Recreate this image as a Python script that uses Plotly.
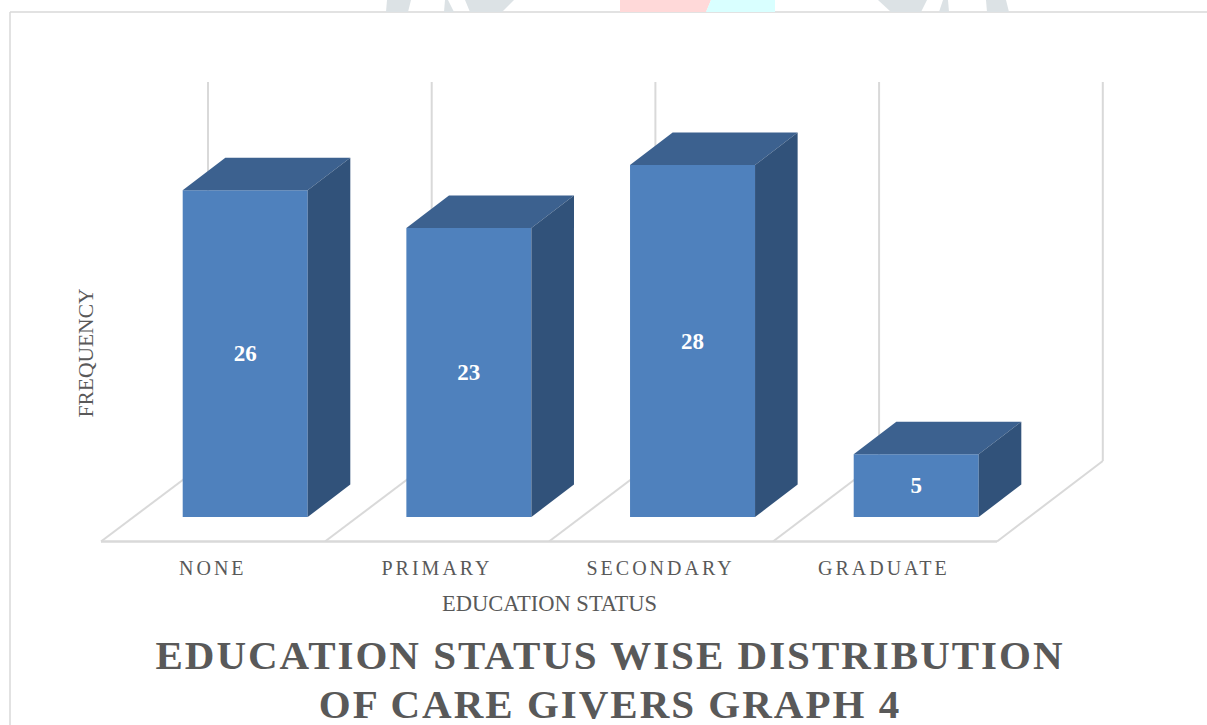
import plotly.graph_objects as go

categories = ["NONE", "PRIMARY", "SECONDARY", "GRADUATE"]
frequency = [26, 23, 28, 5]
title_text = "EDUCATION STATUS WISE DISTRIBUTION<br>OF CARE GIVERS GRAPH 4"
x_title = "EDUCATION STATUS"
y_title = "FREQUENCY"

W, H = 1207, 725
PX_X, PX_Y = 223.67, 12.57     # pixels per category / per unit
X0_PX, Y0_PX = 245.2, 517.0    # pixel of first bar centre / of value 0
BAR = 125 / PX_X
DX, DY = 42.6 / PX_X, 32.5 / PX_Y  # bar depth
FONT = "Liberation Serif"
INK = "#595959"
FRONT, TOP, SIDE = "#4f81bd", "#3c618f", "#31527a"
GRID = "#d9d9d9"


def X(p):
    return (p - X0_PX) / PX_X


def Y(p):
    return (Y0_PX - p) / PX_Y


fig = go.Figure()

# Front faces
fig.add_trace(go.Bar(
    x=list(range(len(categories))), y=frequency, width=BAR, base=0,
    marker=dict(color=FRONT, line=dict(width=0)),
    text=[str(v) for v in frequency], textposition="inside",
    insidetextanchor="middle", textangle=0, constraintext="none",
    textfont=dict(family=FONT, size=23, color="white", weight="bold"),
    hoverinfo="skip", showlegend=False,
))

# Top and side faces derived from the same values
for i, v in enumerate(frequency):
    l, r = i - BAR / 2, i + BAR / 2
    fig.add_trace(go.Scatter(
        x=[l, r, r + DX, l + DX, l], y=[v, v, v + DY, v + DY, v],
        fill="toself", fillcolor=TOP, mode="lines", line=dict(width=0),
        hoverinfo="skip", showlegend=False))
    fig.add_trace(go.Scatter(
        x=[r, r + DX, r + DX, r, r], y=[0, DY, v + DY, v, 0],
        fill="toself", fillcolor=SIDE, mode="lines", line=dict(width=0),
        hoverinfo="skip", showlegend=False))

shapes = []


def seg(x0, y0, x1, y1, w=2):
    shapes.append(dict(type="line", xref="x", yref="y", layer="below",
                       x0=X(x0), y0=Y(y0), x1=X(x1), y1=Y(y1),
                       line=dict(color=GRID, width=w)))


# Floor and back wall
STEP = 223.7
for k in range(5):
    seg(208 + STEP * k, 82, 208 + STEP * k, 461)
    seg(101 + STEP * k + k * 0.3, 541.5, 208 + STEP * k, 461)
seg(101, 541.5, 997, 541.5, 2.5)

# Chart frame
shapes.append(dict(type="line", xref="x", yref="y", layer="below", x0=X(10), x1=X(W), y0=Y(12), y1=Y(12), line=dict(color=GRID, width=1.5)))
shapes.append(dict(type="line", xref="x", yref="y", layer="below", x0=X(10), x1=X(10), y0=Y(12), y1=Y(H), line=dict(color=GRID, width=1.5)))


def poly(pts, color):
    d = "M" + " L".join(f"{X(a):.5f},{Y(b):.5f}" for a, b in pts) + " Z"
    shapes.append(dict(type="path", path=d, xref="x", yref="y", layer="below", fillcolor=color, line=dict(width=0)))


# Page background peeking out above the chart
poly([(620, 0), (711, 0), (706, 12), (620, 12)], "#ffd9d9")
poly([(711, 0), (775, 0), (775, 12), (706, 12)], "#d9ffff")
for pts in [
    [(387, 0), (411, 0), (408, 12), (386, 12)],
    [(445, 0), (448, 0), (454, 12), (444, 12)],
    [(465, 0), (514, 0), (502, 12), (470, 12)],
    [(878, 0), (927, 0), (921, 12), (891, 12)],
    [(943, 0), (948, 0), (949, 12), (939, 12)],
    [(986, 0), (1006, 0), (1009, 12), (987, 12)],
]:
    poly(pts, "#dce2e5")

annotations = []
label_px = [212.5, 437, 660.5, 883.5]
for name, p in zip(categories, label_px):
    annotations.append(dict(text=name, x=X(p), y=Y(568), xref="x", yref="y", showarrow=False,
                            xanchor="center", yanchor="middle",
                            font=dict(family=FONT, size=20, color=INK)))
annotations.append(dict(text=x_title, x=X(549.5), y=Y(603), xref="x", yref="y", showarrow=False,
                        font=dict(family=FONT, size=22.5, color=INK)))
annotations.append(dict(text=y_title, x=X(85), y=Y(353.5), xref="x", yref="y", showarrow=False, textangle=-90,
                        font=dict(family=FONT, size=21.5, color=INK)))

fig.update_layout(
    width=W, height=H, margin=dict(l=0, r=0, t=0, b=0),
    paper_bgcolor="white", plot_bgcolor="white", showlegend=False,
    xaxis=dict(range=[X(0), X(W)], visible=False, fixedrange=True),
    yaxis=dict(range=[Y(H), Y(0)], visible=False, fixedrange=True),
    shapes=shapes, annotations=annotations,
    title=dict(text=title_text, x=610 / W, xanchor="center", y=1 - 669 / H, yanchor="bottom",
               yref="container", font=dict(family=FONT, size=41, color=INK, weight="bold")),
)

post = """
document.body.style.margin = '0';
document.querySelectorAll('.annotation-text').forEach(function (t) {
  var s = t.textContent;
  if (['NONE','PRIMARY','SECONDARY','GRADUATE'].indexOf(s) >= 0) { t.style.letterSpacing = '3.0px'; }
});
document.querySelectorAll('.gtitle').forEach(function (t) {
  t.style.letterSpacing = '2.0px';
  var l = t.querySelectorAll('tspan.line');
  if (l.length > 1) { l[1].setAttribute('dy', '49px'); }
});
"""
fig.write_html("out.html", post_script=post, config={"displayModeBar": False})
